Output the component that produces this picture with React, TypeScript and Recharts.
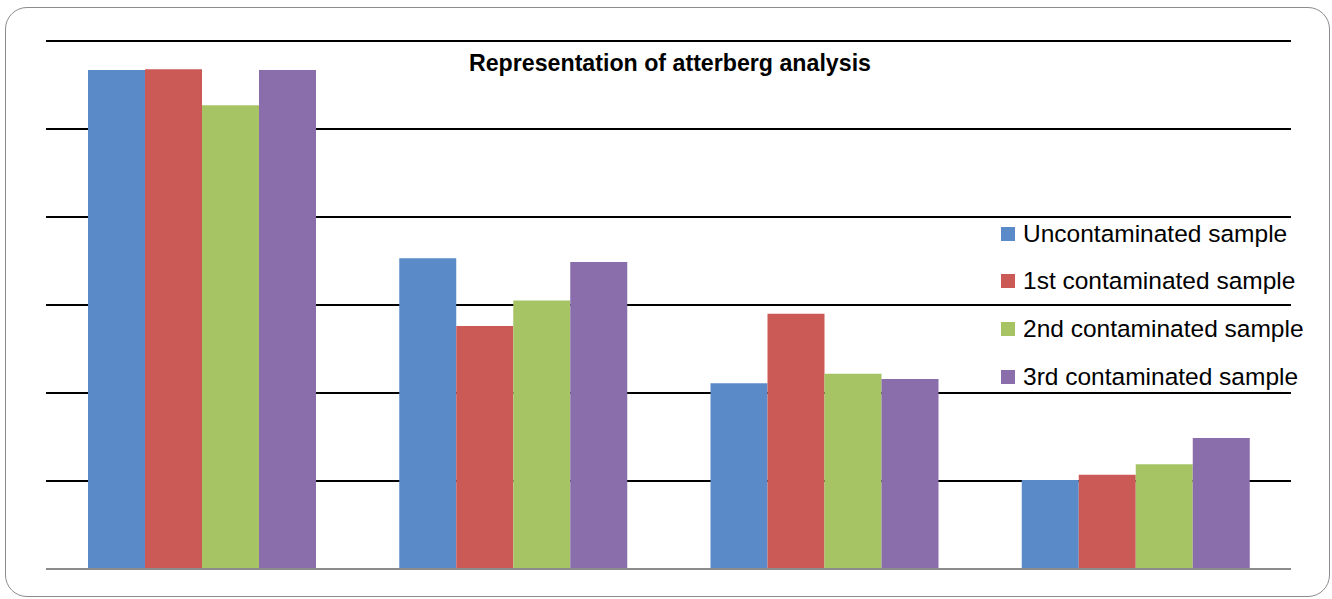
import React from 'react';
import { BarChart, Bar, XAxis, YAxis, CartesianGrid, ReferenceLine } from 'recharts';

const categories = ['A', 'B', 'C', 'D'];
const uncontaminated = [56.7, 35.3, 21.1, 10.1];
const first = [56.8, 27.6, 29.0, 10.7];
const second = [52.7, 30.5, 22.2, 11.9];
const third = [56.7, 34.9, 21.6, 14.9];
const yTicks = [0, 10, 20, 30, 40, 50, 60];

const seriesNames = ['Uncontaminated sample', '1st contaminated sample', '2nd contaminated sample', '3rd contaminated sample'];
const seriesColors = ['#5A8BC8', '#CB5A56', '#A6C464', '#8A6DAB'];

const data = categories.map((c, i) => ({
  name: c,
  s0: uncontaminated[i],
  s1: first[i],
  s2: second[i],
  s3: third[i],
}));

const FONT = '"Liberation Sans", Arial, sans-serif';

const LegendBox = () => (
  <div style={{ position: 'absolute', left: 1001, top: 210, fontFamily: FONT, zIndex: 2 }}>
    {seriesNames.map((n, i) => (
      <div key={n} style={{ display: 'flex', alignItems: 'center', height: 47.6 }}>
        <div style={{ width: 14, height: 14, background: seriesColors[i], marginRight: 8 }} />
        <span style={{ fontSize: 24.5, color: '#000', whiteSpace: 'nowrap' }}>{n}</span>
      </div>
    ))}
  </div>
);

export default function App() {
  return (
    <div style={{ position: 'absolute', left: 0, top: 0, width: 1332, height: 599, background: '#fff' }}>
      <div
        style={{
          position: 'absolute',
          left: 5,
          top: 7,
          width: 1325,
          height: 590,
          border: '1.5px solid #8c8c8c',
          borderRadius: 22,
          boxSizing: 'border-box',
        }}
      />
      <div style={{ position: 'absolute', left: 0, top: 0 }}>
        <BarChart
          width={1332}
          height={599}
          data={data}
          margin={{ top: 41, right: 41, bottom: 30, left: 46 }}
          barGap={0}
          barCategoryGap={42}
        >
          <CartesianGrid horizontal vertical={false} stroke="#000" strokeWidth={2} />
          <XAxis dataKey="name" hide />
          <YAxis hide domain={[0, 60]} ticks={yTicks} />
          {['s0', 's1', 's2', 's3'].map((k, i) => (
            <Bar key={k} dataKey={k} fill={seriesColors[i]} isAnimationActive={false} />
          ))}
          <ReferenceLine y={0} stroke="#8c8c8c" strokeWidth={2} />
        </BarChart>
      </div>
      <div
        style={{
          position: 'absolute',
          left: 0,
          width: 1332,
          top: 50,
          textAlign: 'center',
          fontFamily: FONT,
          fontWeight: 'bold',
          fontSize: 23.2,
          color: '#000',
          paddingLeft: 4,
          zIndex: 2,
        }}
      >
        Representation of atterberg analysis
      </div>
      <LegendBox />
    </div>
  );
}
